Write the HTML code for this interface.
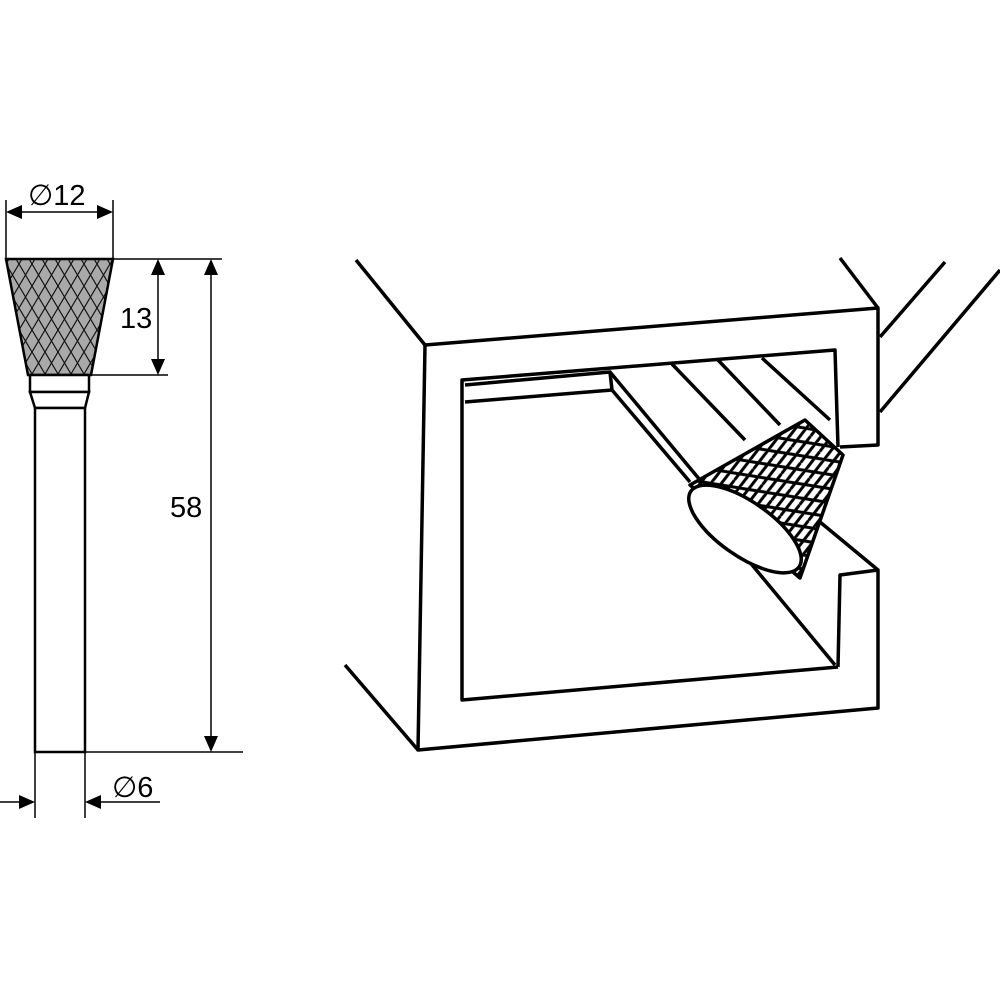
<!DOCTYPE html>
<html><head><style>body{margin:0;background:#fff}svg{display:block}</style></head>
<body>
<svg width="1000" height="1000" viewBox="0 0 1000 1000" xmlns="http://www.w3.org/2000/svg">
<defs>
<pattern id="kn" width="13" height="22" patternUnits="userSpaceOnUse" x="6">
<rect width="13" height="22" fill="#a9a9a9"/>
<path d="M0,0 L13,22 M13,0 L0,22" stroke="#111" stroke-width="1.2"/>
</pattern>
<pattern id="kn2" width="22" height="18" patternUnits="userSpaceOnUse" patternTransform="rotate(-30)">
<rect width="22" height="18" fill="#fff"/>
<path d="M0,0 L22,18 M0,9 L22,0 M0,18 L22,9" stroke="#000" stroke-width="3"/>
</pattern>
</defs>
<g stroke="#000" fill="none" stroke-width="1.5">
<polygon points="6,259 113,259 91,375 28,375" fill="url(#kn)" stroke-width="2.5"/>
<rect x="30" y="375" width="59" height="17" fill="#fff" stroke-width="2.5"/>
<polygon points="30,392 89,392 85,408 35,408" fill="#fff" stroke-width="2.5"/>
<rect x="35" y="408" width="50" height="344" fill="#fff" stroke-width="2.5"/>
<line x1="6" y1="200" x2="6" y2="259"/><line x1="113" y1="200" x2="113" y2="259"/>
<line x1="22" y1="212" x2="97" y2="212"/>
<line x1="113" y1="259" x2="222" y2="259"/>
<line x1="91" y1="375" x2="168" y2="375"/>
<line x1="158" y1="275" x2="158" y2="359"/>
<line x1="211" y1="275" x2="211" y2="736"/>
<line x1="85" y1="752" x2="243" y2="752"/>
<line x1="35" y1="752" x2="35" y2="818"/><line x1="85" y1="752" x2="85" y2="818"/>
<line x1="0" y1="802" x2="20" y2="802"/><line x1="100" y1="802" x2="160" y2="802"/>
</g>
<g fill="#000">
<polygon points="6,212 22,205 22,219"/><polygon points="113,212 97,205 97,219"/>
<polygon points="158,259 151,275 165,275"/><polygon points="158,375 151,359 165,359"/>
<polygon points="211,259 204,275 218,275"/><polygon points="211,752 204,736 218,736"/>
<polygon points="35,802 19,795 19,809"/><polygon points="85,802 101,795 101,809"/>
</g>
<g font-family="Liberation Sans, sans-serif" font-size="29" fill="#000">
<text x="28" y="205">∅12</text>
<text x="120" y="328">13</text>
<text x="170" y="517">58</text>
<text x="112" y="797">∅6</text>
</g>
<g stroke="#000" fill="none" stroke-width="3.5" stroke-linejoin="round">
<line x1="356" y1="260" x2="425" y2="345"/>
<line x1="345" y1="665" x2="418" y2="750"/>
<line x1="840" y1="258" x2="878" y2="308"/>
<line x1="945" y1="262" x2="880" y2="337"/>
<line x1="1000" y1="270" x2="880" y2="412"/>
<polyline points="840,447 878,445 878,308 425,345 418,750 878,708 878,570 840,575 838,667"/>
<polyline points="838,447 835,350 462,380 462,700 838,667"/>
<polyline points="820,522 878,570"/>
<polyline points="465,385 610,372 612,390 465,402"/>
<line x1="610" y1="372" x2="700" y2="480"/>
<line x1="612" y1="390" x2="690" y2="482"/>
<line x1="672" y1="364" x2="745" y2="440"/>
<line x1="718" y1="360" x2="780" y2="425"/>
<line x1="762" y1="358" x2="830" y2="420"/>
<line x1="748" y1="560" x2="835" y2="665"/>
<polygon points="690,485 805,420 843,455 800,578" fill="url(#kn2)"/>
<ellipse cx="745" cy="529" rx="66" ry="27" transform="rotate(35 745 529)" fill="#fff"/>
</g>
</svg>
</body></html>
